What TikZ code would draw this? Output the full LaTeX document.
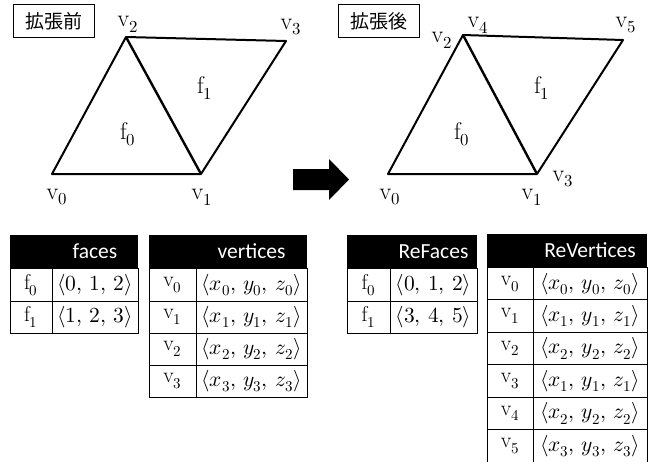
\documentclass[tikz,border=0pt]{standalone}
\usepackage{fontspec}
\usepackage{unicode-math}
\setmathfont{Latin Modern Math}
\newfontfamily\jpfont{Noto Sans CJK JP}
\newfontfamily\carlito{Carlito}
\newcommand{\cs}{,\,}
\begin{document}
\begin{tikzpicture}[x=1pt,y=-1pt,
  edge/.style={line width=2pt, line join=round},
  lbl/.style={font=\fontsize{24}{26}\selectfont, inner sep=0pt},
  jpbox/.style={draw, line width=0.8pt, font=\jpfont\fontsize{19}{22}\selectfont, minimum width=81pt, minimum height=33pt, inner sep=0pt, anchor=north west},
  cell/.style={font=\fontsize{21.5}{24}\selectfont, inner sep=0pt},
  head/.style={font=\carlito\fontsize{21.5}{24}\selectfont, text=white, inner sep=0pt},
  grid/.style={line width=0.8pt}
]
\useasboundingbox (0,0) rectangle (651,461);

% ---------- left mesh ----------
\coordinate (a0) at (52,174);
\coordinate (a1) at (201,174);
\coordinate (a2) at (126,37);
\coordinate (a3) at (286,41);
\draw[edge] (a0) -- (a1) -- (a3) -- (a2) -- cycle;
\draw[line width=2.4pt] (a2) -- (a1);
\node[jpbox] (bef) at (13,4) {拡張前};
\node[lbl] (la2) at (128,24) {$\mathrm{v}_2$};
\node[lbl] (la3) at (291,27) {$\mathrm{v}_3$};
\node[lbl] (laf1) at (205,88) {$\mathrm{f}_1$};
\node[lbl] (laf0) at (128,134) {$\mathrm{f}_0$};
\node[lbl] (la0) at (57,197) {$\mathrm{v}_0$};
\node[lbl] (la1) at (202,197) {$\mathrm{v}_1$};

% ---------- arrow ----------
\fill (293,169) -- (329,169) -- (329,159) -- (349,179.5) -- (329,200) -- (329,190) -- (293,190) -- cycle;

% ---------- right mesh ----------
\coordinate (b0) at (388,174);
\coordinate (b1) at (537,174);
\coordinate (b2) at (463,35);
\coordinate (b5) at (623,40);
\draw[edge] (b0) -- (b1) -- (b5) -- (b2) -- cycle;
\draw[line width=2.4pt] (b2) -- (b1);
\node[jpbox] (aft) at (338,4) {拡張後};
\node[lbl] (lb4) at (478,25) {$\mathrm{v}_4$};
\node[lbl] (lb2) at (442,40) {$\mathrm{v}_2$};
\node[lbl] (lb5) at (626,25) {$\mathrm{v}_5$};
\node[lbl] (lbf1) at (542,88) {$\mathrm{f}_1$};
\node[lbl] (lbf0) at (462,134) {$\mathrm{f}_0$};
\node[lbl] (lb3) at (563,179) {$\mathrm{v}_3$};
\node[lbl] (lb0) at (390,197) {$\mathrm{v}_0$};
\node[lbl] (lb1) at (532,197) {$\mathrm{v}_1$};

% ---------- faces table ----------
\fill (10,235) rectangle (138,268);
\draw[grid] (10,268) rectangle (138,333);
\draw[grid] (10,301) -- (138,301);
\draw[grid] (52,268) -- (52,333);
\node[head] (fh) at (95,251.5) {faces};
\node[cell] (f0n) at (31,285) {$\mathrm{f}_0$};
\node[cell] (f0v) at (95,285) {$\langle 0\cs 1\cs 2\rangle$};
\node[cell] (f1n) at (31,317) {$\mathrm{f}_1$};
\node[cell] (f1v) at (95,317) {$\langle 1\cs 2\cs 3\rangle$};

% ---------- vertices table ----------
\fill (149,235) rectangle (307,268);
\draw[grid] (149,268) rectangle (307,397);
\foreach \yy in {301,333,365} \draw[grid] (149,\yy) -- (307,\yy);
\draw[grid] (196,268) -- (196,397);
\node[head] (vh) at (251.5,251.5) {vertices};
\node[cell] (v0n) at (172.5,285) {$\mathrm{v}_0$};
\node[cell] (v0v) at (251.5,285) {$\langle x_0\cs y_0\cs z_0\rangle$};
\node[cell] (v1n) at (172.5,317) {$\mathrm{v}_1$};
\node[cell] (v1v) at (251.5,317) {$\langle x_1\cs y_1\cs z_1\rangle$};
\node[cell] (v2n) at (172.5,349) {$\mathrm{v}_2$};
\node[cell] (v2v) at (251.5,349) {$\langle x_2\cs y_2\cs z_2\rangle$};
\node[cell] (v3n) at (172.5,381) {$\mathrm{v}_3$};
\node[cell] (v3v) at (251.5,381) {$\langle x_3\cs y_3\cs z_3\rangle$};

% ---------- ReFaces table ----------
\fill (347,235) rectangle (477,268);
\draw[grid] (347,268) rectangle (477,333);
\draw[grid] (347,301) -- (477,301);
\draw[grid] (390,268) -- (390,333);
\node[head] (rfh) at (433.5,251.5) {ReFaces};
\node[cell] (rf0n) at (368.5,285) {$\mathrm{f}_0$};
\node[cell] (rf0v) at (433.5,285) {$\langle 0\cs 1\cs 2\rangle$};
\node[cell] (rf1n) at (368.5,317) {$\mathrm{f}_1$};
\node[cell] (rf1v) at (433.5,317) {$\langle 3\cs 4\cs 5\rangle$};

% ---------- ReVertices table ----------
\fill (487,234) rectangle (647,267);
\draw[grid] (487,267) rectangle (647,462);
\foreach \yy in {299.5,332,364.5,397,429.5} \draw[grid] (487,\yy) -- (647,\yy);
\draw[grid] (533,267) -- (533,462);
\node[head] (rvh) at (590,250.5) {ReVertices};
\node[cell] (rv0n) at (510,284) {$\mathrm{v}_0$};
\node[cell] (rv0v) at (590,284) {$\langle x_0\cs y_0\cs z_0\rangle$};
\node[cell] (rv1n) at (510,316) {$\mathrm{v}_1$};
\node[cell] (rv1v) at (590,316) {$\langle x_1\cs y_1\cs z_1\rangle$};
\node[cell] (rv2n) at (510,348.5) {$\mathrm{v}_2$};
\node[cell] (rv2v) at (590,348.5) {$\langle x_2\cs y_2\cs z_2\rangle$};
\node[cell] (rv3n) at (510,381) {$\mathrm{v}_3$};
\node[cell] (rv3v) at (590,381) {$\langle x_1\cs y_1\cs z_1\rangle$};
\node[cell] (rv4n) at (510,413.5) {$\mathrm{v}_4$};
\node[cell] (rv4v) at (590,413.5) {$\langle x_2\cs y_2\cs z_2\rangle$};
\node[cell] (rv5n) at (510,446) {$\mathrm{v}_5$};
\node[cell] (rv5v) at (590,446) {$\langle x_3\cs y_3\cs z_3\rangle$};
\end{tikzpicture}
\end{document}
